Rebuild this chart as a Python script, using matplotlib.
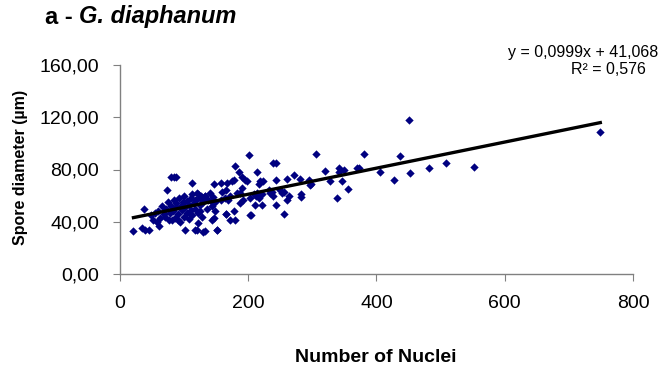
import numpy as np
import matplotlib
matplotlib.use("Agg")
import matplotlib.pyplot as plt
from matplotlib.ticker import FuncFormatter

# Data (number of nuclei vs spore diameter)
nuclei = [21, 34, 39, 46, 37, 52, 57, 61, 48, 55,
          74, 80, 84, 87, 81, 91, 101, 117, 130, 151, 120, 133, 152,
          113,
          60, 63, 66, 68, 70, 72, 75, 77, 78, 80, 82, 84, 85, 87, 88, 90, 92, 93, 95, 97,
          98, 100, 100, 102, 104, 105, 107, 108, 110, 110, 112, 113, 115, 117, 118, 120,
          122, 124, 126, 128, 130, 132, 135, 138, 140, 143, 145,
          122, 127, 132, 125, 117, 142, 148, 157, 163, 169, 171,
          125, 148, 165, 172, 179, 143, 122, 146, 166, 177,
          146, 158, 167, 175, 178, 159, 166, 182,
          180, 186, 190, 195, 198, 201, 214, 216, 218, 223, 238,
          192, 203, 212, 216, 221, 237, 211, 221, 203, 205, 187, 187, 190,
          209, 213, 232, 234, 238, 244, 250, 256, 252, 260, 264, 255, 282, 283, 298,
          243, 260, 271, 280, 295, 297, 305, 243, 319, 328, 341, 342, 350, 346, 355, 339, 370, 372,
          380, 406, 427, 436, 450, 453, 482, 509, 552, 749]
diameter = [33, 35, 34, 34, 50, 41, 40, 37, 45, 47,
            64, 74, 74, 74, 41, 41, 34, 34, 32, 34, 34, 33, 34,
            70,
            48, 43, 52, 46, 44, 50, 55, 41, 47, 52, 48, 57, 43, 51, 54, 46, 58, 40, 52, 49,
            55, 44, 60, 51, 47, 56, 53, 42, 58, 49, 61, 45, 54, 50, 57, 62,
            47, 53, 58, 44, 55, 60, 50, 57, 62, 52, 59,
            61, 60, 60, 58, 57, 56, 55, 57, 58, 57, 60,
            48, 48, 46, 41, 41, 41, 39, 43, 46, 48,
            69, 70, 70, 71, 72, 63, 64, 62,
            83, 78, 74, 72, 71, 91, 78, 69, 71, 71, 85,
            57, 58, 60, 58, 61, 63, 53, 53, 45, 45, 54, 62, 66,
            61, 62, 64, 62, 60, 53, 64, 63, 62, 57, 60, 46, 61, 59, 69,
            72, 73, 76, 73, 72, 68, 92, 85, 79, 71, 81, 78, 80, 71, 65, 58, 81, 81,
            92, 78, 72, 90, 118, 77, 81, 85, 82, 109]

slope = 0.0999
intercept = 41.068
r2 = 0.576

x_ticks = [0, 200, 400, 600, 800]
y_ticks = [0, 40, 80, 120, 160]

plt.rcParams['font.family'] = ['Liberation Sans', 'DejaVu Sans']

fig = plt.figure(figsize=(6.6, 3.71), dpi=100)
ax = fig.add_axes([120/660, 97/371, 513/660, 209/371])

ax.scatter(nuclei, diameter, marker='D', s=18, color='#000080', linewidths=0, zorder=2)

xfit = np.array([min(nuclei), max(nuclei)])
ax.plot(xfit, slope*xfit + intercept, color='black', linewidth=2.4, zorder=3)

ax.set_xlim(0, 800)
ax.set_ylim(0, 160)
ax.set_xticks(x_ticks)
ax.set_yticks(y_ticks)
ax.yaxis.set_major_formatter(FuncFormatter(lambda v, p: f"{v:.2f}".replace('.', ',')))

for s in ['top', 'right']:
    ax.spines[s].set_visible(False)
for s in ['left', 'bottom']:
    ax.spines[s].set_color('#808080')
    ax.spines[s].set_linewidth(1.0)
ax.tick_params(axis='both', direction='out', length=5, color='#808080', labelsize=14)
ax.tick_params(axis='y', pad=10)
ax.tick_params(axis='x', pad=10)

# axis titles
fig.text(376/660, 1 - 358/371, "Number of Nuclei", fontsize=14, fontweight='bold',
         ha='center', va='center')
fig.text(21/660, 1 - 167/371, "Spore diameter (\u00b5m)", fontsize=11.5, fontweight='bold',
         ha='center', va='center', rotation=90)

# title in two parts: plain bold + bold italic
t1 = fig.text(45/660, 1 - 17/371, "a - ", fontsize=17, fontweight='bold', va='center')
fig.canvas.draw()
bb = t1.get_window_extent()
fig.text(bb.x1/660, 1 - 17/371, "G. diaphanum", fontsize=17, fontweight='bold',
         style='italic', va='center')

fig.text(583/660, 1 - 52/371, f"y = {slope:.4f}x + {intercept:.3f}".replace('.', ','),
         fontsize=11.5, ha='center', va='center')
fig.text(608/660, 1 - 70/371, f"R\u00b2 = {r2:.3f}".replace('.', ','),
         fontsize=11.5, ha='center', va='center')

fig.savefig("out.png", dpi=100)
